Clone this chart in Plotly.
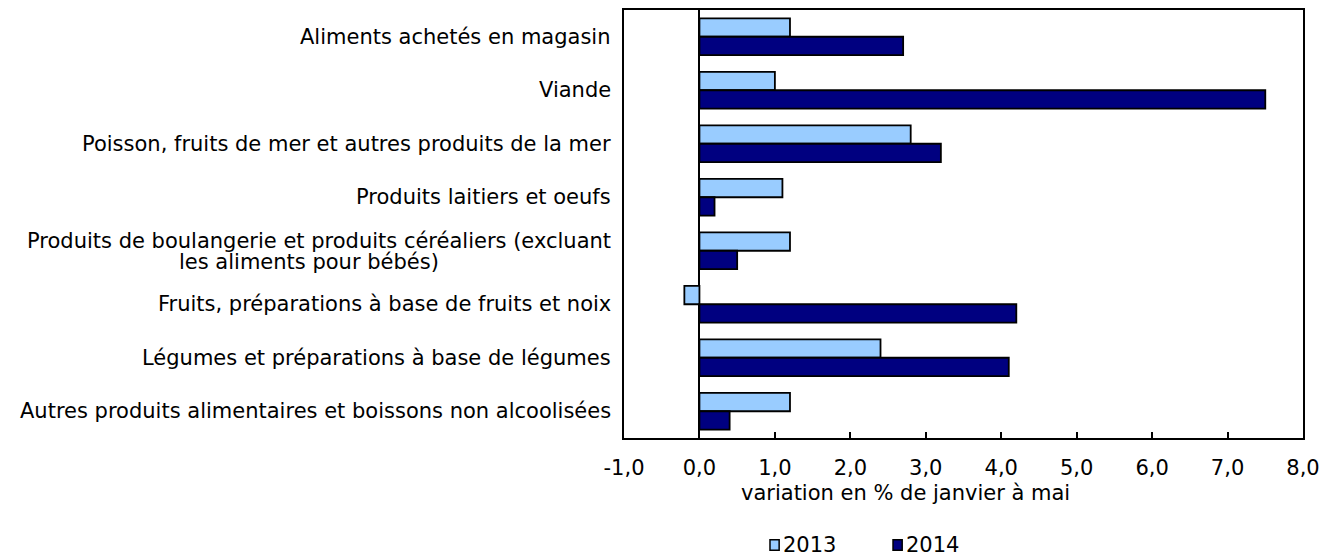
import plotly.graph_objects as go

categories = [
    "Aliments achetés en magasin",
    "Viande",
    "Poisson, fruits de mer et autres produits de la mer",
    "Produits laitiers et oeufs",
    "Produits de boulangerie et produits céréaliers (excluant<br>les aliments pour bébés)",
    "Fruits, préparations à base de fruits et noix",
    "Légumes et préparations à base de légumes",
    "Autres produits alimentaires et boissons non alcoolisées",
]
values_2013 = [1.2, 1.0, 2.8, 1.1, 1.2, -0.2, 2.4, 1.2]
values_2014 = [2.7, 7.5, 3.2, 0.2, 0.5, 4.2, 4.1, 0.4]
series_names = ["2013", "2014"]
series_colors = ["#99CCFF", "#000080"]
tick_values = [-1, 0, 1, 2, 3, 4, 5, 6, 7, 8]
tick_text = [f"{v:.1f}".replace(".", ",") for v in tick_values]
x_title = "variation en % de janvier à mai"

FONT = "DejaVu Sans"
FS = 21
fig = go.Figure()
for name, vals, col in zip(series_names, [values_2013, values_2014], series_colors):
    fig.add_trace(go.Bar(y=categories, x=vals, orientation="h", name=name,
                         marker=dict(color=col, line=dict(color="black", width=1.8))))

for c in categories:
    lines = c.split("<br>")
    if len(lines) == 1:
        fig.add_annotation(x=0, xref="paper", y=c, yref="y", text=c, showarrow=False,
                           xanchor="right", xshift=-11,
                           font=dict(family=FONT, size=FS, color="black"))
    else:
        fig.add_annotation(x=0, xref="paper", y=c, yref="y", text=lines[0], showarrow=False,
                           xanchor="right", xshift=-11, yshift=10,
                           font=dict(family=FONT, size=FS, color="black"))
        fig.add_annotation(x=0, xref="paper", y=c, yref="y", text=lines[1], showarrow=False,
                           xanchor="right", xshift=-183, yshift=-11,
                           font=dict(family=FONT, size=FS, color="black"))

fig.add_annotation(x=0.415, y=-0.128, xref="paper", yref="paper", text=x_title,
                   showarrow=False, xanchor="center", yanchor="middle",
                   font=dict(family=FONT, size=FS, color="black"))

# manual legend (symbol directly before the text, as in the reference)
legend_x = [0.215, 0.3962]
for lx, name, col in zip(legend_x, series_names, series_colors):
    fig.add_shape(type="rect", xref="paper", yref="paper",
                  x0=lx, x1=lx + 0.0135, y0=-0.262, y1=-0.238,
                  fillcolor=col, line=dict(color="black", width=1.5))
    fig.add_annotation(x=lx + 0.0155, y=-0.25, xref="paper", yref="paper", text=name,
                       showarrow=False, xanchor="left", yanchor="middle",
                       font=dict(family=FONT, size=FS, color="black"))

fig.update_layout(
    width=1322, height=548,
    margin=dict(l=616, r=27, t=2, b=118),
    paper_bgcolor="white", plot_bgcolor="white",
    barmode="group", bargap=0.31, bargroupgap=0,
    font=dict(family=FONT, size=FS, color="black"),
    showlegend=False,
    xaxis=dict(range=[-1, 8], tickvals=tick_values, ticktext=tick_text, automargin=False,
               showline=True, linecolor="black", linewidth=2, mirror=True,
               ticks="inside", ticklen=6, tickcolor="black", tickwidth=1.5,
               showgrid=False, zeroline=True, zerolinecolor="black", zerolinewidth=2,
               ticklabelstandoff=10,
               tickfont=dict(family=FONT, size=FS, color="black")),
    yaxis=dict(autorange="reversed", showticklabels=False, ticks="", automargin=False,
               showline=True, linecolor="black", linewidth=2, mirror=True,
               showgrid=False),
)
fig.write_html("out.html")
